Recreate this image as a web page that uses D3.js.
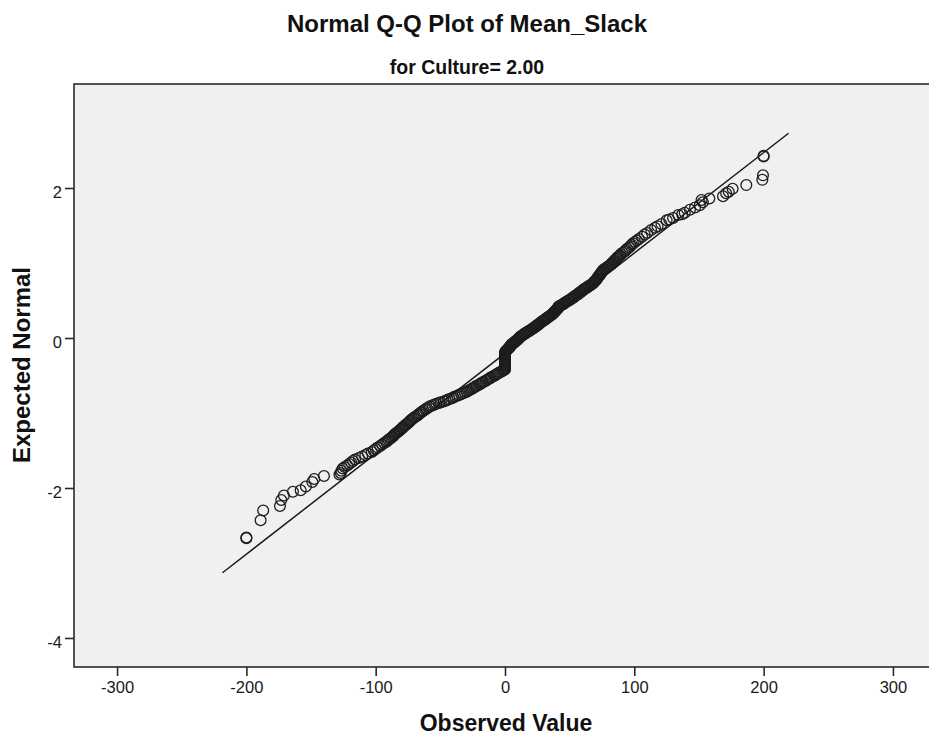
<!DOCTYPE html>
<html>
<head>
<meta charset="utf-8">
<script src="https://cdn.jsdelivr.net/npm/d3@7"></script>
<style>
  html, body { margin: 0; padding: 0; background: #fff; }
  svg { display: block; font-family: "Liberation Sans", Arial, sans-serif; }
</style>
</head>
<body>
<svg id="chart" width="929" height="736"></svg>
<script>
// Observed Mean_Slack values (sorted) and their expected normal scores
const observed = [
  -200, -200, -189, -187, -174, -173, -171, -164, -158, -154, -149, -147.5, -140,
  -128, -127, -126.5, -125.5, -124, -122, -120.5, -119, -117.5, -116, -113, -110.5, -108, -106, -103,
  -101.5, -100, -98.5, -96.5, -95,
  -93.5, -92, -91, -90, -89, -88, -87, -86, -85.5, -84.5, -83.5, -82.5, -81.5, -80.5, -79.5, -79,
  -78, -77, -76, -75, -74, -73.5, -72.5, -71.5, -70.5, -69.5, -68, -67, -66, -65, -64, -63, -61.5,
  -60.5, -59, -58,
  -56, -54.5, -53, -51, -49.5, -47.5, -46, -44.5, -43, -41, -40, -38.5, -37, -35.5, -34, -32.5, -31,
  -29.5, -28.5, -27.5, -26, -25, -24, -23, -22, -20.5, -19.5, -18.5, -17.5, -16.5, -15, -14, -13,
  -12, -11, -10, -8.5, -7.5, -6.5, -5.5, -4.5, -3, -2, -1,
  0, 0, 0, 0, 0, 0, 0, 0, 0, 0, 0, 0, 0, 0, 0, 0, 0, 0, 0, 0,
  0.5, 1, 1.5, 2, 2.5, 3, 3.5, 4, 4, 4.5, 5, 5.5, 6.5, 7, 7.5, 8, 9, 9.5, 10, 10.5, 11, 11.5, 12,
  13, 13.5, 14.5, 15, 16, 16.5, 17.5, 18.5, 19, 20, 21, 21.5, 22.5, 23, 24, 24.5, 25, 26, 26.5, 27,
  28, 28.5, 29, 30, 31, 31.5, 32, 33, 33.5, 34.5, 35, 36, 36.5, 37, 37.5, 38, 38.5, 39, 39.5, 40,
  40.5, 41, 41, 41.5, 42, 43, 44, 45, 45.5, 46.5, 47, 48, 49, 50, 50.5, 51.5, 52, 53, 53.5, 54, 55,
  56, 56.5, 57, 58, 58.5, 59, 60, 60.5, 61, 62, 63, 63.5, 64.5, 65, 66,
  67, 68, 68.5, 69, 70, 70.5, 71, 71.5, 72, 72.5, 73, 73.5, 74, 74.5, 75, 75.5, 76, 77, 78, 79, 80,
  81, 82, 82.5, 83, 84, 84.5, 85, 86, 86.5, 87, 88, 89,
  89.5, 91, 92.5, 93.5, 94.5, 96, 97, 98, 99, 100.5, 102,
  103.5, 106, 108, 110, 113, 116, 118, 121, 125, 127, 130, 134, 137, 139, 143, 147, 150.6, 153, 152,
  158, 168.6, 171, 173, 176, 186.6, 199, 199.5, 200, 200
];
const expected = [
  -2.66, -2.67, -2.43, -2.30, -2.24, -2.16, -2.10, -2.05, -2.03, -1.98, -1.92, -1.88, -1.84,
  -1.82, -1.80, -1.77, -1.74, -1.72, -1.70, -1.68, -1.66, -1.64, -1.62, -1.60, -1.58, -1.56, -1.54, -1.52,
  -1.50, -1.48, -1.46, -1.44, -1.42,
  -1.400, -1.386, -1.372, -1.358, -1.344, -1.330, -1.316, -1.302, -1.288, -1.274, -1.260, -1.246, -1.232, -1.218, -1.204, -1.190,
  -1.176, -1.162, -1.148, -1.134, -1.120, -1.106, -1.092, -1.078, -1.064, -1.050, -1.036, -1.022, -1.008, -0.994, -0.980, -0.966, -0.952,
  -0.938, -0.924, -0.910,
  -0.898, -0.887, -0.876, -0.865, -0.856, -0.846, -0.836, -0.825, -0.814, -0.803, -0.792, -0.781, -0.770, -0.759, -0.748, -0.737, -0.726,
  -0.715, -0.704, -0.693, -0.682, -0.671, -0.660, -0.649, -0.638, -0.627, -0.616, -0.605, -0.594, -0.583, -0.572, -0.561, -0.550,
  -0.539, -0.528, -0.517, -0.506, -0.495, -0.484, -0.473, -0.462, -0.451, -0.440, -0.430,
  -0.418, -0.406, -0.394, -0.382, -0.370, -0.358, -0.346, -0.334, -0.322, -0.310, -0.298, -0.286, -0.274, -0.262, -0.250, -0.238, -0.226, -0.214, -0.202, -0.190,
  -0.178, -0.169, -0.160, -0.151, -0.142, -0.133, -0.124, -0.115, -0.106, -0.097, -0.088, -0.079, -0.070, -0.061, -0.052, -0.043, -0.034, -0.025, -0.016, -0.007, 0.002, 0.011, 0.020,
  0.029, 0.038, 0.047, 0.056, 0.065, 0.074, 0.083, 0.092, 0.101, 0.110, 0.119, 0.128, 0.137, 0.146, 0.155, 0.164, 0.173, 0.182, 0.191, 0.200,
  0.209, 0.218, 0.227, 0.236, 0.245, 0.254, 0.263, 0.272, 0.281, 0.290, 0.299, 0.308, 0.317, 0.326, 0.335, 0.344, 0.353, 0.362, 0.371, 0.380,
  0.389, 0.398, 0.407, 0.416, 0.425, 0.434, 0.443, 0.452, 0.461, 0.470, 0.479, 0.488, 0.497, 0.506, 0.515, 0.524, 0.533, 0.542, 0.551, 0.560, 0.569,
  0.578, 0.587, 0.596, 0.605, 0.614, 0.623, 0.632, 0.641, 0.650, 0.659, 0.668, 0.677, 0.686, 0.695, 0.704,
  0.716, 0.728, 0.740, 0.752, 0.764, 0.776, 0.788, 0.800, 0.812, 0.824, 0.836, 0.848, 0.860, 0.872, 0.884, 0.896, 0.908, 0.920, 0.932, 0.944, 0.956,
  0.968, 0.980, 0.992, 1.004, 1.016, 1.028, 1.040, 1.052, 1.064, 1.076, 1.088, 1.100,
  1.118, 1.136, 1.154, 1.172, 1.190, 1.208, 1.226, 1.244, 1.262, 1.280, 1.300,
  1.32, 1.35, 1.38, 1.40, 1.44, 1.47, 1.49, 1.52, 1.57, 1.58, 1.60, 1.64, 1.65, 1.67, 1.71, 1.74, 1.77, 1.81, 1.84,
  1.86, 1.89, 1.93, 1.95, 1.99, 2.04, 2.11, 2.17, 2.42, 2.43
];

// Reference normal line endpoints
const refLineX = [-218.5, 219.3];
const refLineY = [-3.13, 2.73];

const xTicks = [-300, -200, -100, 0, 100, 200, 300];
const yTicks = [-4, -2, 0, 2];

const titleText = "Normal Q-Q Plot of Mean_Slack";
const subtitleText = "for Culture= 2.00";
const xTitle = "Observed Value";
const yTitle = "Expected Normal";

const svg = d3.select("#chart");
const plot = { left: 74, top: 84, right: 936, bottom: 667 };

const x = d3.scaleLinear().domain([-333.3, 333.3]).range([plot.left, plot.right]);
const y = d3.scaleLinear().domain([-4.387, 3.387]).range([plot.bottom, plot.top]);

// Plot background
svg.append("rect")
  .attr("x", plot.left).attr("y", plot.top)
  .attr("width", plot.right - plot.left).attr("height", plot.bottom - plot.top)
  .attr("fill", "#f0f0f0");

// Points
const pts = observed.map((v, i) => ({ o: v, e: expected[i] }));
svg.append("g")
  .selectAll("circle")
  .data(pts)
  .join("circle")
  .attr("cx", d => x(d.o))
  .attr("cy", d => y(d.e))
  .attr("r", 5.4)
  .attr("fill", "none")
  .attr("stroke", "#1e1e1e")
  .attr("stroke-width", 1.3);

// Reference line
svg.append("line")
  .attr("x1", x(refLineX[0])).attr("y1", y(refLineY[0]))
  .attr("x2", x(refLineX[1])).attr("y2", y(refLineY[1]))
  .attr("stroke", "#1a1a1a")
  .attr("stroke-width", 1.5);

// Frame
svg.append("rect")
  .attr("x", plot.left).attr("y", plot.top)
  .attr("width", plot.right - plot.left).attr("height", plot.bottom - plot.top)
  .attr("fill", "none")
  .attr("stroke", "#2a2a2a")
  .attr("stroke-width", 1.6);

// Axes (plain hyphen for negative labels)
const fmt = d => String(d);
const xAxis = d3.axisBottom(x).tickValues(xTicks).tickFormat(fmt).tickSize(9).tickSizeOuter(0).tickPadding(5);
const yAxis = d3.axisLeft(y).tickValues(yTicks).tickFormat(fmt).tickSize(9).tickSizeOuter(0).tickPadding(3);

const gx = svg.append("g").attr("transform", `translate(0,${plot.bottom})`).call(xAxis);
const gy = svg.append("g").attr("transform", `translate(${plot.left},0)`).call(yAxis);
[gx, gy].forEach(g => {
  g.select(".domain").remove();
  g.selectAll(".tick line").attr("stroke", "#2a2a2a").attr("stroke-width", 1.6);
  g.selectAll(".tick text")
    .attr("fill", "#1a1a1a")
    .style("font-family", "'Liberation Sans', Arial, sans-serif")
    .style("font-size", "16.5px");
});
gy.selectAll(".tick text").attr("dy", "0.55em");

// Titles
svg.append("text")
  .attr("x", 467).attr("y", 32)
  .attr("text-anchor", "middle")
  .style("font-size", "24px").style("font-weight", "bold").attr("fill", "#111")
  .text(titleText);

svg.append("text")
  .attr("x", 467).attr("y", 74)
  .attr("text-anchor", "middle")
  .style("font-size", "19.5px").style("font-weight", "bold").attr("fill", "#111")
  .text(subtitleText);

svg.append("text")
  .attr("x", 506).attr("y", 731)
  .attr("text-anchor", "middle")
  .style("font-size", "23px").style("font-weight", "bold").attr("fill", "#111")
  .text(xTitle);

svg.append("text")
  .attr("transform", "translate(30,365) rotate(-90)")
  .attr("text-anchor", "middle")
  .style("font-size", "24px").style("font-weight", "bold").attr("fill", "#111")
  .text(yTitle);
</script>
</body>
</html>
